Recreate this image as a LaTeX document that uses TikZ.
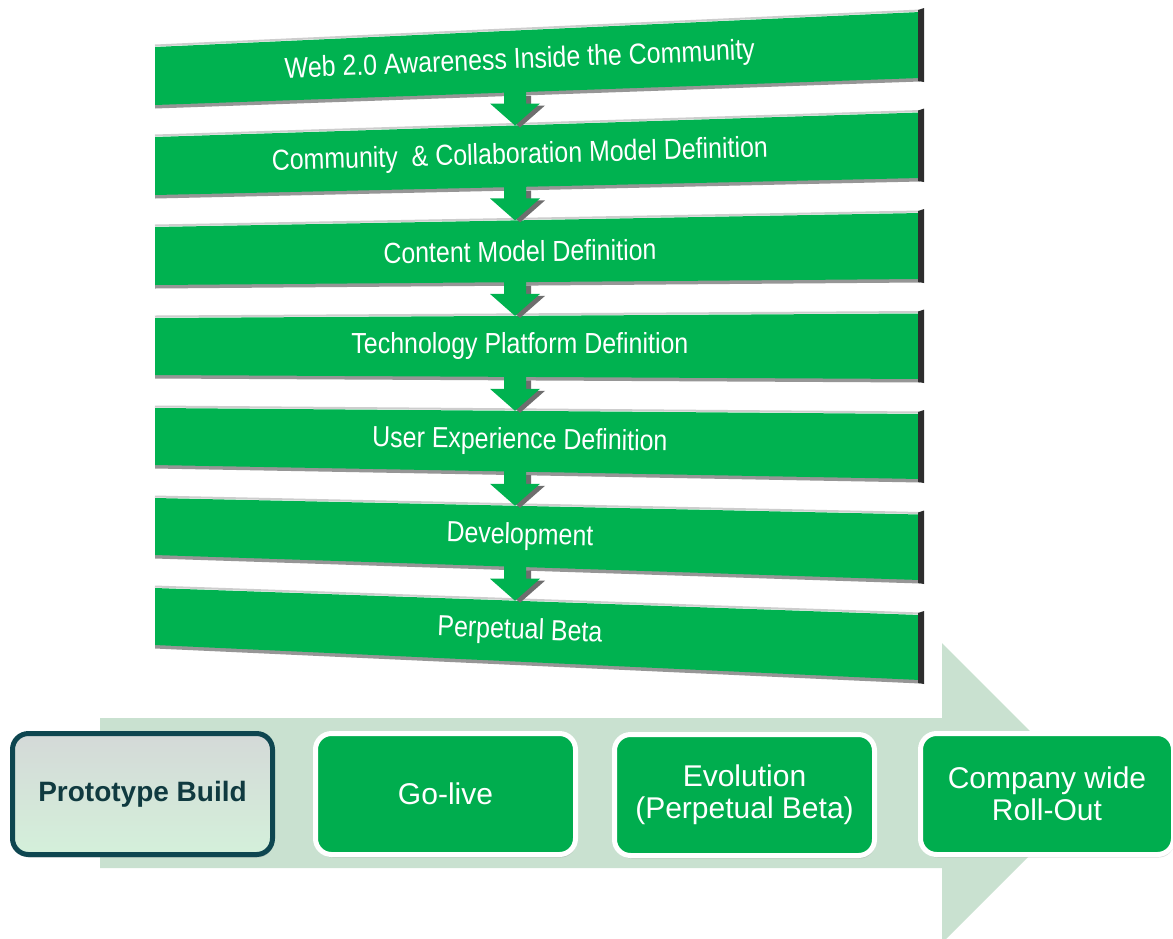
\documentclass[tikz,border=0pt]{standalone}
\usepackage{fontspec}
\setmainfont{Liberation Sans}
\newfontfamily\barfont[FakeStretch=0.86]{Liberation Sans}
\usetikzlibrary{calc,shadows}
\definecolor{bargreen}{RGB}{0,178,80}
\definecolor{boxgreen}{RGB}{0,173,78}
\definecolor{paleflow}{RGB}{201,225,208}
\definecolor{tealdark}{RGB}{14,70,80}
\definecolor{protext}{RGB}{16,58,64}
\definecolor{edgedark}{RGB}{45,45,45}
\definecolor{shadowgray}{RGB}{150,150,150}
\definecolor{topgray}{RGB}{205,205,205}
\definecolor{arrowshade}{RGB}{110,110,110}
\definecolor{protop}{RGB}{212,217,216}
\definecolor{probottom}{RGB}{212,240,218}

% #1 name, #2 TL, #3 TR, #4 BR, #5 BL, #6 angle, #7 text
\newcommand\greenbar[7]{%
  \fill[shadowgray] (155,#5+3.5) -- (920,#4+3.5) -- (920,#4-1) -- (155,#5-1) -- cycle;
  \draw[topgray, line width=2pt] (155,#2-1.5) -- (920,#3-1.5);
  \fill[bargreen] (155,#2) -- (920,#3) -- (920,#4) -- (155,#5) -- cycle;
  \fill[edgedark] (918,#3-2) -- (924,#3-4) -- (924,#4+4) -- (918,#4+3) -- cycle;
  \node[bartext, rotate=#6] (#1) at ($(155,{(#2+#5)/2})!0.477!(920,{(#3+#4)/2})$) {#7};
}
% #1 y of bar bottom at arrow, #2 y of tip
\newcommand\blockarrow[2]{%
  \fill[arrowshade, shift={(5,2)}] (504,#1+1.5) -- (526,#1+1.5) -- (526,#2-22) -- (540,#2-22) -- (515,#2) -- (490,#2-22) -- (504,#2-22) -- cycle;
  \fill[bargreen] (504,#1-1.5) -- (526,#1-1.5) -- (526,#2-22) -- (540,#2-22) -- (515,#2) -- (490,#2-22) -- (504,#2-22) -- cycle;
}

\tikzset{
  bartext/.style={text=white, font=\barfont\fontsize{29}{30}\selectfont, inner sep=0pt},
  stagebox/.style={rounded corners=16pt, minimum width=260pt, minimum height=121pt,
    line width=5pt, draw=white, fill=boxgreen, text=white, align=center,
    font=\fontsize{30}{32}\selectfont,
    drop shadow={opacity=0.3, shadow xshift=1pt, shadow yshift=-3pt}},
  protobox/.style={stagebox, draw=tealdark, fill=none, top color=protop, bottom color=probottom,
    text=protext, font=\bfseries\fontsize{28}{30}\selectfont}
}

\begin{document}
\begin{tikzpicture}[x=1pt,y=-1pt]
\useasboundingbox (0,0) rectangle (1173,938);
\fill[white] (0,0) rectangle (1173,938);

% big background flow arrow
\fill[paleflow] (100,718) -- (942,718) -- (942,643) -- (1092,793) -- (942,943) -- (942,868) -- (100,868) -- cycle;

% bars
\greenbar{b1}{47}{12}{78}{105}{2.32}{Web 2.0 Awareness Inside the Community}
\greenbar{b2}{137}{112.5}{178}{195}{1.55}{Community \ \& Collaboration Model Definition}
\greenbar{b3}{227}{213}{279}{285}{0.75}{Content Model Definition}
\greenbar{b4}{318}{313.5}{379}{375}{0}{Technology Platform Definition}
\greenbar{b5}{408}{414}{479}{465}{-0.75}{User Experience Definition}
\greenbar{b6}{498}{514.5}{580}{555}{-1.55}{Development}
\greenbar{b7}{588}{615}{680}{645}{-2.32}{Perpetual Beta}

% arrows between bars
\blockarrow{92.3}{125.5}
\blockarrow{187}{220.4}
\blockarrow{282.2}{315.9}
\blockarrow{376.9}{410.8}
\blockarrow{471.6}{505.8}
\blockarrow{566.8}{600.7}

% stage boxes
\node[protobox] (proto) at (142.5,794) {Prototype Build};
\node[stagebox] (golive) at (445.5,794) {Go-live};
\node[stagebox] (evo) at (744.5,795) {Evolution\\(Perpetual Beta)};
\node[stagebox, minimum width=253pt] (roll) at (1047,794) {Company wide\\Roll-Out};
\end{tikzpicture}
\end{document}
